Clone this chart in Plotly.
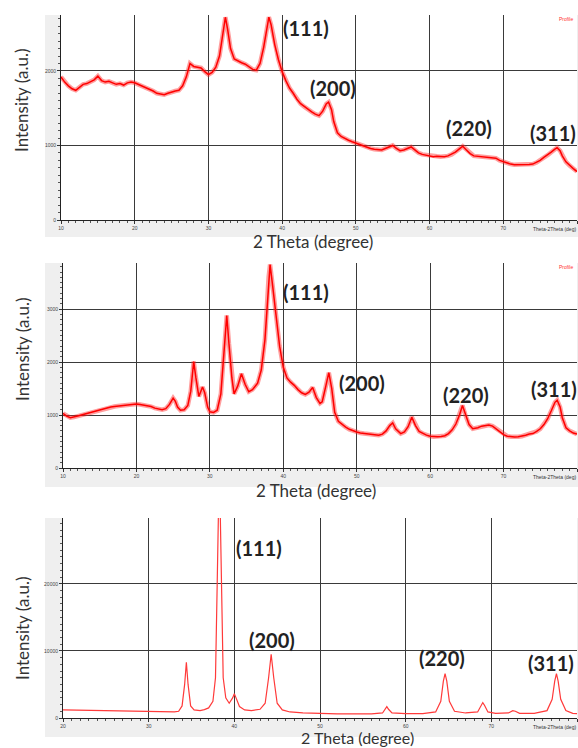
import plotly.graph_objects as go

# ---------------- data ----------------
theta_top = [10, 10.5, 11, 11.5, 12, 12.5, 13, 13.5, 14, 14.5, 15, 15.5, 16, 16.5, 17, 17.5, 18, 18.5, 19, 19.5,
             20, 20.5, 21, 21.5, 22, 22.5, 23, 23.5, 24, 24.5, 25, 25.5, 26, 26.5, 27, 27.5, 28, 28.5, 29, 29.5,
             30, 30.5, 31, 31.5, 32, 32.3, 32.6, 33, 33.5, 34, 34.5, 35, 35.5, 36, 36.5, 37, 37.5, 38, 38.2, 38.5,
             39, 39.5, 40, 40.5, 41, 41.5, 42, 42.5, 43, 43.5, 44, 44.5, 45, 45.5, 46, 46.3, 46.7, 47, 47.5, 48,
             48.5, 49, 49.5, 50, 50.5, 51, 51.5, 52, 52.5, 53, 53.5, 54, 54.5, 55, 55.5, 56, 56.5, 57, 57.5, 58,
             58.5, 59, 59.5, 60, 60.5, 61, 61.5, 62, 62.5, 63, 63.5, 64, 64.5, 65, 65.5, 66, 66.5, 67, 67.5, 68,
             68.5, 69, 69.5, 70, 70.5, 71, 71.5, 72, 72.5, 73, 73.5, 74, 74.5, 75, 75.5, 76, 76.5, 77, 77.3, 77.7,
             78, 78.5, 79, 79.5, 80]
int_top = [1920, 1850, 1800, 1760, 1740, 1780, 1820, 1830, 1860, 1880, 1930, 1870, 1850, 1860, 1840, 1820, 1830, 1810, 1840, 1850,
           1840, 1820, 1800, 1780, 1760, 1730, 1700, 1690, 1680, 1700, 1720, 1730, 1740, 1800, 1920, 2100, 2060, 2050, 2040, 1990,
           1950, 1980, 2050, 2200, 2550, 2720, 2560, 2300, 2160, 2130, 2110, 2090, 2060, 2020, 2010, 2100, 2320, 2650, 2720, 2620,
           2350, 2150, 1990, 1870, 1770, 1700, 1620, 1560, 1520, 1480, 1450, 1420, 1400, 1460, 1560, 1580, 1480, 1320, 1170, 1120,
           1090, 1070, 1050, 1030, 1010, 990, 970, 960, 950, 945, 940, 960, 975, 1000, 960, 930, 940, 960, 980, 940,
           900, 880, 870, 860, 850, 855, 850, 850, 860, 880, 910, 950, 990, 940, 890, 860, 855, 850, 845, 850,
           840, 830, 800, 780, 760, 750, 740, 740, 735, 740, 745, 750, 770, 800, 840, 870, 910, 950, 970, 930,
           860, 780, 730, 690, 650]

theta_mid = [10, 10.5, 11, 11.5, 12, 12.5, 13, 13.5, 14, 14.5, 15, 15.5, 16, 16.5, 17, 17.5, 18, 18.5, 19, 19.5,
             20, 20.5, 21, 21.5, 22, 22.5, 23, 23.5, 24, 24.5, 25, 25.3, 25.6, 26, 26.5, 27, 27.4, 27.8, 28.1, 28.5,
             29, 29.3, 29.7, 30, 30.5, 31, 31.5, 32, 32.3, 32.6, 33, 33.3, 33.8, 34.3, 34.8, 35.3, 35.8, 36.5, 37, 37.5,
             38, 38.2, 38.5, 39, 39.5, 40, 40.5, 41, 41.5, 42, 42.5, 43, 43.5, 44, 44.5, 45, 45.3, 45.8, 46.2, 46.6,
             47, 47.5, 48, 48.5, 49, 49.5, 50, 50.5, 51, 51.5, 52, 52.5, 53, 53.5, 54, 54.5, 54.9, 55.3, 56, 56.5,
             57, 57.5, 58, 58.5, 59, 59.5, 60, 60.5, 61, 61.5, 62, 62.5, 63, 63.5, 64, 64.4, 64.8, 65.3, 65.8, 66.5,
             67, 67.5, 68, 68.5, 69, 69.5, 70, 70.5, 71, 71.5, 72, 72.5, 73, 73.5, 74, 74.5, 75, 75.5, 76, 76.5,
             77, 77.3, 77.7, 78, 78.5, 79, 79.5, 80]
int_mid = [1030, 980, 950, 960, 980, 1000, 1020, 1040, 1060, 1080, 1090, 1110, 1130, 1150, 1160, 1170, 1180, 1190, 1200, 1210,
           1210, 1200, 1190, 1180, 1160, 1130, 1110, 1100, 1120, 1200, 1320, 1260, 1150, 1090, 1100, 1180, 1450, 2010, 1700, 1350,
           1530, 1420, 1150, 1060, 1050, 1090, 1400, 2400, 2880, 2350, 1700, 1400, 1550, 1780, 1580, 1440, 1480, 1600, 1850, 2420,
           3600, 3840, 3500, 2870, 2300, 1900, 1700, 1620, 1560, 1480, 1420, 1390, 1430, 1520, 1330, 1220, 1250, 1550, 1800, 1500,
           1050, 880, 820, 770, 730, 700, 680, 660, 650, 640, 630, 625, 620, 640, 700, 800, 850, 740, 650, 680,
           780, 960, 800, 690, 650, 620, 600, 590, 590, 595, 610, 650, 720, 830, 1000, 1180, 1000, 820, 740, 760,
           790, 800, 810, 790, 740, 680, 630, 600, 590, 585, 590, 600, 620, 640, 650, 690, 740, 820, 930, 1080,
           1240, 1280, 1150, 950, 760, 700, 660, 640]

theta_bot = [20, 22, 24, 26, 28, 30, 32, 33, 33.5, 33.9, 34.2, 34.4, 34.6, 34.9, 35.3, 36, 36.5, 37, 37.5, 37.8,
             38.0, 38.15, 38.35, 38.5, 38.7, 39, 39.4, 39.8, 40, 40.2, 40.6, 41.2, 42, 43, 43.6, 44.0, 44.3, 44.6, 45.0, 45.6,
             46.5, 48, 50, 52, 54, 56, 57.3, 57.6, 57.8, 58.0, 58.4, 60, 62, 63.5, 64.1, 64.4, 64.6, 64.8, 65.1, 65.7,
             67, 68.4, 68.8, 69.0, 69.2, 69.6, 70.5, 72, 72.5, 72.8, 73.3, 75, 76.5, 77.1, 77.4, 77.6, 77.8, 78.1, 78.7, 79.5, 80]
int_bot = [1200, 1150, 1100, 1050, 1000, 920, 880, 900, 1000, 1800, 5000, 8300, 5000, 1800, 1200, 1100, 1250, 1500, 2500, 6000,
           20000, 31000, 31000, 18000, 6000, 3000, 2200, 3000, 3600, 3000, 1700, 1200, 1100, 1300, 2200, 6000, 9500, 6000, 2200, 1200,
           900, 750, 650, 620, 600, 620, 750, 1300, 1700, 1300, 750, 650, 650, 900, 2500, 5500, 6600, 5500, 2500, 1000,
           750, 900, 1900, 2300, 1900, 900, 700, 750, 1100, 1000, 700, 700, 1100, 2800, 5500, 6600, 5500, 2800, 1100, 700, 650]

peak_labels = ["(111)", "(200)", "(220)", "(311)"]
x_title = "2 Theta (degree)"
y_title = "Intensity (a.u.)"

# ---------------- layout geometry (pixels) ----------------
W, H = 578, 748


def px_x(p):
    return p / W


def px_y(p):
    return 1 - p / H


panels = [
    dict(plot=(61, 577, 15, 220), frame=(45, 578, 15, 237), xr=[10, 80], yr=[0, 2750], dt=1000, mt=100),
    dict(plot=(63, 577, 263, 468), frame=(45, 578, 263, 487), xr=[10, 80], yr=[0, 3870], dt=1000, mt=100),
    dict(plot=(63, 577, 518, 718), frame=(45, 578, 518, 737), xr=[20, 80], yr=[0, 29800], dt=10000, mt=1000),
]

fig = go.Figure()

series = [(theta_top, int_top), (theta_mid, int_mid), (theta_bot, int_bot)]
for i, (xs, ys) in enumerate(series):
    ax = "" if i == 0 else str(i + 1)
    if i < 2:
        fig.add_trace(go.Scatter(x=xs, y=ys, mode="lines", xaxis="x" + ax, yaxis="y" + ax,
                                 line=dict(color="rgba(255,40,40,0.45)", width=4.5), hoverinfo="skip",
                                 showlegend=False))
        fig.add_trace(go.Scatter(x=xs, y=ys, mode="lines", xaxis="x" + ax, yaxis="y" + ax,
                                 line=dict(color="#ff0000", width=1.5), showlegend=False))
    else:
        fig.add_trace(go.Scatter(x=xs, y=ys, mode="lines", xaxis="x" + ax, yaxis="y" + ax,
                                 line=dict(color="#ff3a3a", width=1.2), showlegend=False))

shapes = []
annotations = []
layout_axes = {}


def note(text, cx, cy, size, color, family="Lato", xanchor="center", angle=0):
    annotations.append(dict(text=text, xref="paper", yref="paper", x=px_x(cx), y=px_y(cy),
                            xanchor=xanchor, yanchor="middle", textangle=angle, showarrow=False,
                            font=dict(size=size, color=color, family=family)))


for i, p in enumerate(panels):
    ax = "" if i == 0 else str(i + 1)
    x0, x1, yt, yb = p["plot"]
    fx0, fx1, fyt, fyb = p["frame"]
    shapes.append(dict(type="rect", xref="paper", yref="paper", x0=px_x(fx0), x1=px_x(fx1),
                       y0=px_y(fyb), y1=px_y(fyt), fillcolor="#efefef", line=dict(width=0), layer="below"))
    shapes.append(dict(type="rect", xref="paper", yref="paper", x0=px_x(x0), x1=px_x(x1),
                       y0=px_y(yb), y1=px_y(yt), fillcolor="white", line=dict(width=0), layer="below"))
    layout_axes["xaxis" + ax] = dict(
        domain=[px_x(x0), px_x(x1)], range=p["xr"], anchor="y" + ax, dtick=10, tick0=0,
        automargin=False,
        showgrid=True, gridcolor="#3a3a3a", gridwidth=1, zeroline=False,
        showline=True, linecolor="#222", linewidth=1, ticks="outside", ticklen=3, tickcolor="#333",
        tickfont=dict(size=5, color="#444", family="Liberation Sans"),
        minor=dict(dtick=1, ticks="outside", ticklen=2, tickcolor="#555", showgrid=False),
    )
    layout_axes["yaxis" + ax] = dict(
        domain=[px_y(yb), px_y(yt)], range=p["yr"], anchor="x" + ax, dtick=p["dt"], tick0=0,
        automargin=False, tickformat="d",
        showgrid=True, gridcolor="#3a3a3a", gridwidth=1, zeroline=False,
        showline=True, linecolor="#222", linewidth=1, ticks="outside", ticklen=3, tickcolor="#333",
        tickfont=dict(size=5, color="#444", family="Liberation Sans"),
        minor=dict(dtick=p["mt"], ticks="outside", ticklen=2, tickcolor="#555", showgrid=False),
    )
    if i < 2:
        note("Profile", 575, yt + 4, 5, "#ff3030", "Liberation Sans", xanchor="right")
    note("Theta-2Theta (deg)", 578, yb + 9, 5, "#333", "Liberation Sans", xanchor="right")

y_title_centers = [101, 350, 629]
x_title_pos = [(313, 242, 17), (316, 491, 17), (357, 737, 16)]
for i in range(3):
    note(y_title, 22, y_title_centers[i], 17, "#333", angle=-90)
    xc, yc, fs = x_title_pos[i]
    note(x_title, xc, yc, fs, "#333")

label_pos = [
    [(306, 28), (333, 88), (469, 128), (553, 133)],
    [(306, 292), (362, 383), (466, 395), (554, 389)],
    [(259, 548), (272, 640), (442, 658), (551, 663)],
]
for i in range(3):
    for lab, (lx, ly) in zip(peak_labels, label_pos[i]):
        note("<b>" + lab + "</b>", lx, ly, 20, "#222")

fig.update_layout(
    width=W, height=H, autosize=False,
    margin=dict(l=0, r=0, t=0, b=0),
    paper_bgcolor="white", plot_bgcolor="white",
    shapes=shapes, annotations=annotations, showlegend=False,
    **layout_axes,
)

fig.write_html("out.html", config={"displayModeBar": False},
               post_script="document.body.style.margin='0';document.body.style.padding='0';"
                           "document.body.style.overflow='hidden';")
